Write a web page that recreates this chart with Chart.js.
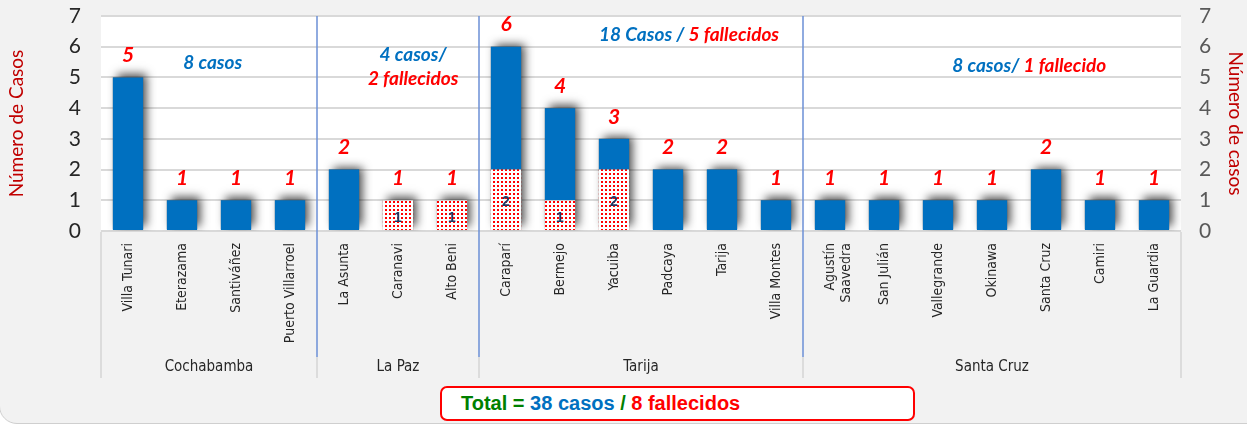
<!DOCTYPE html>
<html>
<head>
<meta charset="utf-8">
<script src="https://cdn.jsdelivr.net/npm/chart.js@4.4.0/dist/chart.umd.min.js"></script>
<style>
  body { margin: 0; background: #ffffff; overflow: hidden; }
  #marco { position: absolute; left: -1px; top: -20px; width: 1270px; height: 444px; box-sizing: border-box;
           border: 1px solid #cfcfcf; border-radius: 18px; background: #f2f2f2; }
  #grafico { position: absolute; left: 0; top: 0; }
  #total { position: absolute; left: 440px; top: 386px; width: 475px; height: 35px; box-sizing: border-box;
           border: 2px solid #ff0000; border-radius: 7px; background: #fff;
           font: bold 20px "Liberation Sans", Arial, sans-serif; line-height: 31px; padding-left: 19px; }
</style>
</head>
<body>
<div id="marco"></div>
<canvas id="grafico" width="1247" height="424"></canvas>
<div id="total"><span style="color:#008000">Total = </span><span style="color:#0070c0">38 casos</span><span style="color:#008000"> / </span><span style="color:#ff0000">8 fallecidos</span></div>
<script>
var municipios = ["Villa Tunari", "Eterazama", "Santiváñez", "Puerto Villarroel",
	"La Asunta", "Caranavi", "Alto Beni",
	"Caraparí", "Bermejo", "Yacuiba", "Padcaya", "Tarija", "Villa Montes",
	["Agustín", "Saavedra"], "San Julián", "Vallegrande", "Okinawa", "Santa Cruz", "Camiri", "La Guardia"];
var casos      = [5, 1, 1, 1, 2, 1, 1, 6, 4, 3, 2, 2, 1, 1, 1, 1, 1, 2, 1, 1];
var fallecidos = [0, 0, 0, 0, 0, 1, 1, 2, 1, 2, 0, 0, 0, 0, 0, 0, 0, 0, 0, 0];
var departamentos = ["Cochabamba", "La Paz", "Tarija", "Santa Cruz"];
var inicioDepto   = [0, 4, 7, 13];   // first category of each department
var finDepto      = [3, 6, 12, 19];  // last category of each department
var yTicks = [0, 1, 2, 3, 4, 5, 6, 7];

// group notes: [x (category index), y (value), text parts]
var notas = [
	[1.57, 5.47, [["8 casos", "#0070c0"]]],
	[5.28, 5.73, [["4 casos/", "#0070c0"]]],
	[5.28, 4.95, [["2 fallecidos", "#ff0000"]]],
	[10.39, 6.38, [["18 Casos / ", "#0070c0"], ["5 fallecidos", "#ff0000"]]],
	[16.69, 5.37, [["8 casos/ ", "#0070c0"], ["1 fallecido", "#ff0000"]]]
];

var vivos = casos.map(function(c, i){ return c - fallecidos[i]; });

var tile = document.createElement("canvas");
tile.width = 4; tile.height = 4;
var tctx = tile.getContext("2d");
tctx.fillStyle = "#ffffff"; tctx.fillRect(0, 0, 4, 4);
tctx.fillStyle = "#ff0000"; tctx.fillRect(1, 1, 2, 2);
var ctx = document.getElementById("grafico").getContext("2d");
var puntos = ctx.createPattern(tile, "repeat");

var CONDENSADA = "'Liberation Sans Narrow', 'DejaVu Sans Condensed', sans-serif";

var extras = {
	id: "extras",
	beforeDatasetsDraw: function(chart){
		var c = chart.ctx, a = chart.chartArea, x = chart.scales.x, y = chart.scales.y;
		c.save();
		c.fillStyle = "#ffffff";
		c.fillRect(a.left, a.top, a.right - a.left, a.bottom - a.top);
		// grid redraw on top of white
		c.strokeStyle = "#d9d9d9"; c.lineWidth = 2;
		yTicks.forEach(function(t){
			var py = Math.round(y.getPixelForValue(t));
			c.beginPath(); c.moveTo(a.left, py); c.lineTo(a.right, py); c.stroke();
		});
		// shadows behind stacks
		var meta = chart.getDatasetMeta(1);
		c.beginPath(); c.rect(a.left, a.top - 10, a.right - a.left, a.bottom - a.top + 10); c.clip();
		c.shadowColor = "rgba(0,0,0,0.7)";
		c.shadowBlur = 9; c.shadowOffsetX = 4; c.shadowOffsetY = -3;
		c.fillStyle = "#555";
		casos.forEach(function(v, i){
			var w = meta.data[i].width;
			var px = x.getPixelForValue(i);
			var top = y.getPixelForValue(v), bot = y.getPixelForValue(0);
			c.fillRect(px - w / 2, top, w, bot - top - 2);
		});
		c.restore();
	},
	afterDatasetsDraw: function(chart){
		var c = chart.ctx, a = chart.chartArea, x = chart.scales.x, y = chart.scales.y;
		c.save();
		// totals above bars
		c.textAlign = "center"; c.textBaseline = "middle";
		c.font = "italic bold 21px Lato, sans-serif";
		c.fillStyle = "#ff0000";
		casos.forEach(function(v, i){
			c.fillText(String(v), x.getPixelForValue(i), y.getPixelForValue(v) - 22);
		});
		// deaths inside dotted part
		c.font = "bold 14px 'Liberation Sans', Arial, sans-serif";
		c.fillStyle = "#1f3864";
		fallecidos.forEach(function(v, i){
			if (v > 0) c.fillText(String(v), x.getPixelForValue(i), (y.getPixelForValue(v) + y.getPixelForValue(0)) / 2 + 2);
		});
		// notes per department
		c.font = "italic bold 19px Lato, sans-serif";
		c.textAlign = "left";
		notas.forEach(function(n){
			var total = 0;
			n[2].forEach(function(p){ total += c.measureText(p[0]).width; });
			var px = x.getPixelForValue(n[0]) - total / 2, py = y.getPixelForValue(n[1]);
			n[2].forEach(function(p){
				c.fillStyle = p[1];
				c.fillText(p[0], px, py);
				px += c.measureText(p[0]).width;
			});
		});
		// department separators
		var half = (x.getPixelForValue(1) - x.getPixelForValue(0)) / 2;
		var yLinea = 357, yFondo = 378;
		c.lineWidth = 1.5; c.strokeStyle = "#d4d4d4";
		[a.left, a.right].forEach(function(px){
			c.beginPath(); c.moveTo(px, a.bottom + 1); c.lineTo(px, yFondo); c.stroke();
		});
		inicioDepto.slice(1).forEach(function(i){
			var px = Math.round(x.getPixelForValue(i) - half);
			c.strokeStyle = "#d4d4d4"; c.lineWidth = 1.5;
			c.beginPath(); c.moveTo(px, yLinea); c.lineTo(px, yFondo); c.stroke();
			c.strokeStyle = "#6b8fd6"; c.lineWidth = 1.5;
			c.beginPath(); c.moveTo(px, a.top); c.lineTo(px, yLinea); c.stroke();
		});
		// department names
		c.font = "15px " + CONDENSADA;
		c.fillStyle = "#262626"; c.textAlign = "center";
		departamentos.forEach(function(d, k){
			var px = (x.getPixelForValue(inicioDepto[k]) + x.getPixelForValue(finDepto[k])) / 2;
			c.fillText(d, px, 367);
		});
		c.restore();
	}
};

new Chart(ctx, {
	type: "bar",
	data: {
		labels: municipios,
		datasets: [
			{
				label: "Fallecidos",
				data: fallecidos,
				backgroundColor: puntos,
				borderWidth: 0,
				categoryPercentage: 1,
				barPercentage: 0.56
			},
			{
				label: "Casos",
				data: vivos,
				backgroundColor: "#0070c0",
				borderWidth: 0,
				categoryPercentage: 1,
				barPercentage: 0.56
			}
		]
	},
	options: {
		responsive: false,
		animation: false,
		layout: { padding: { top: 16, bottom: 46, left: 0, right: 0 } },
		plugins: { legend: { display: false }, tooltip: { enabled: false } },
		scales: {
			x: {
				stacked: true,
				grid: { display: false, drawTicks: false },
				border: { display: false },
				ticks: {
					autoSkip: false, maxRotation: 90, minRotation: 90, padding: 12,
					color: "#262626", font: { family: CONDENSADA, size: 14 }
				},
				afterFit: function(s){ s.height = 147; s.paddingTop = 0; s.paddingBottom = 0; s.paddingLeft = 0; s.paddingRight = 0; }
			},
			y: {
				stacked: true, min: 0, max: 7,
				grid: { color: "#d9d9d9", lineWidth: 2, drawTicks: false },
				border: { display: false },
				ticks: { stepSize: 1, padding: 20, color: "#262626", font: { family: "Lato, sans-serif", size: 21 } },
				title: { display: true, text: "Número de Casos", color: "#c00000", font: { family: "Lato, sans-serif", size: 19 }, padding: { top: 5, bottom: 0 } },
				afterFit: function(s){ s.width = 101; s.paddingTop = 0; s.paddingBottom = 0; }
			},
			y2: {
				position: "right", min: 0, max: 7,
				grid: { display: false, drawTicks: false },
				border: { display: false },
				ticks: { stepSize: 1, padding: 18, color: "#595959", font: { family: "Lato, sans-serif", size: 21 } },
				title: { display: true, text: "Número de casos", color: "#c00000", font: { family: "Lato, sans-serif", size: 19 }, padding: { top: 0, bottom: 12 } },
				afterFit: function(s){ s.width = 66; s.paddingTop = 0; s.paddingBottom = 0; }
			}
		}
	},
	plugins: [extras]
});
</script>
</body>
</html>
